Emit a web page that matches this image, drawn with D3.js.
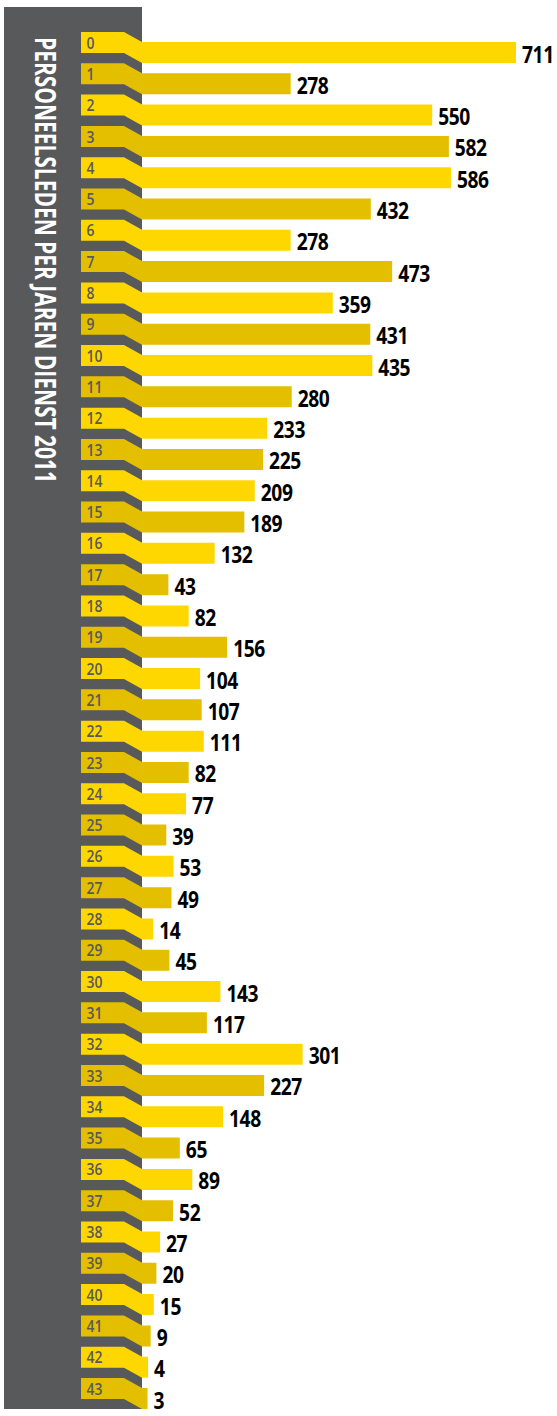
<!DOCTYPE html>
<html>
<head>
<meta charset="utf-8">
<script src="https://cdn.jsdelivr.net/npm/d3@7"></script>
<style>
  html, body { margin: 0; padding: 0; background: #ffffff; }
  svg { display: block; }
</style>
</head>
<body>
<div id="chart"></div>
<script>
// Personnel per years of service, 2011
const years = ["0","1","2","3","4","5","6","7","8","9","10","11","12","13","14","15","16","17","18","19","20","21","22","23","24","25","26","27","28","29","30","31","32","33","34","35","36","37","38","39","40","41","42","43"];
const staff = [711,278,550,582,586,432,278,473,359,431,435,280,233,225,209,189,132,43,82,156,104,107,111,82,77,39,53,49,14,45,143,117,301,227,148,65,89,52,27,20,15,9,4,3];
const title = "PERSONEELSLEDEN PER JAREN DIENST 2011";

const W = 557, H = 1416;
const panel = { x: 4, y: 7, w: 138, h: 1402 };
const tabX = 81, slantX = 124, edgeX = 142, drop = 10;
const colors = ["#FFD700", "#E3BF00"];
const grey = "#58595B";
const font = "'Open Sans', 'Noto Sans', sans-serif";
const squeeze = 0.8; // condensed look for the bold labels

const svg = d3.select("#chart").append("svg")
  .attr("width", W).attr("height", H);

const y = d3.scaleBand()
  .domain(years)
  .range([32, 1399])
  .paddingInner(0.329)
  .paddingOuter(0);

const x = d3.scaleLinear()
  .domain([0, d3.max(staff)])
  .range([146, 516]);

const rows = years.map((yr, i) => ({ yr, v: staff[i], i }));

// dark side panel
svg.append("rect")
  .attr("x", panel.x).attr("y", panel.y)
  .attr("width", panel.w).attr("height", panel.h)
  .attr("fill", grey);

// vertical title
svg.append("text")
  .attr("transform", `translate(35,37) rotate(90)`)
  .attr("font-family", font)
  .attr("font-weight", "bold")
  .attr("font-size", 29)
  .attr("fill", "#ffffff")
  .attr("textLength", 446)
  .attr("lengthAdjust", "spacingAndGlyphs")
  .text(title);

// flag-shaped bars: tab inside the panel, slant down, bar outward
const bh = y.bandwidth();
const g = svg.append("g");
g.selectAll("path.bar")
  .data(rows)
  .join("path")
  .attr("class", "bar")
  .attr("fill", d => colors[d.i % 2])
  .attr("d", d => {
    const t = y(d.yr);
    const xe = x(d.v);
    const p = d3.path();
    p.moveTo(tabX, t);
    p.lineTo(slantX, t);
    p.lineTo(edgeX, t + drop);
    p.lineTo(xe, t + drop);
    p.lineTo(xe, t + drop + bh);
    p.lineTo(edgeX, t + drop + bh);
    p.lineTo(slantX, t + bh);
    p.lineTo(tabX, t + bh);
    p.closePath();
    return p.toString();
  });

// year labels on the tabs
g.selectAll("text.yr")
  .data(rows)
  .join("text")
  .attr("class", "yr")
  .attr("transform", d => `translate(86.5,${y(d.yr) + 16.6}) scale(0.82,1)`)
  .attr("font-family", font)
  .attr("font-weight", 600)
  .attr("font-size", 17)
  .attr("fill", grey)
  .text(d => d.yr);

// value labels
g.selectAll("text.val")
  .data(rows)
  .join("text")
  .attr("class", "val")
  .attr("transform", d => `translate(${x(d.v) + 6},${y(d.yr) + drop + bh - 0.5}) scale(${squeeze},1)`)
  .attr("font-family", font)
  .attr("font-weight", "bold")
  .attr("font-size", 24)
  .attr("letter-spacing", -0.5)
  .attr("fill", "#000000")
  .text(d => d.v);
</script>
</body>
</html>
